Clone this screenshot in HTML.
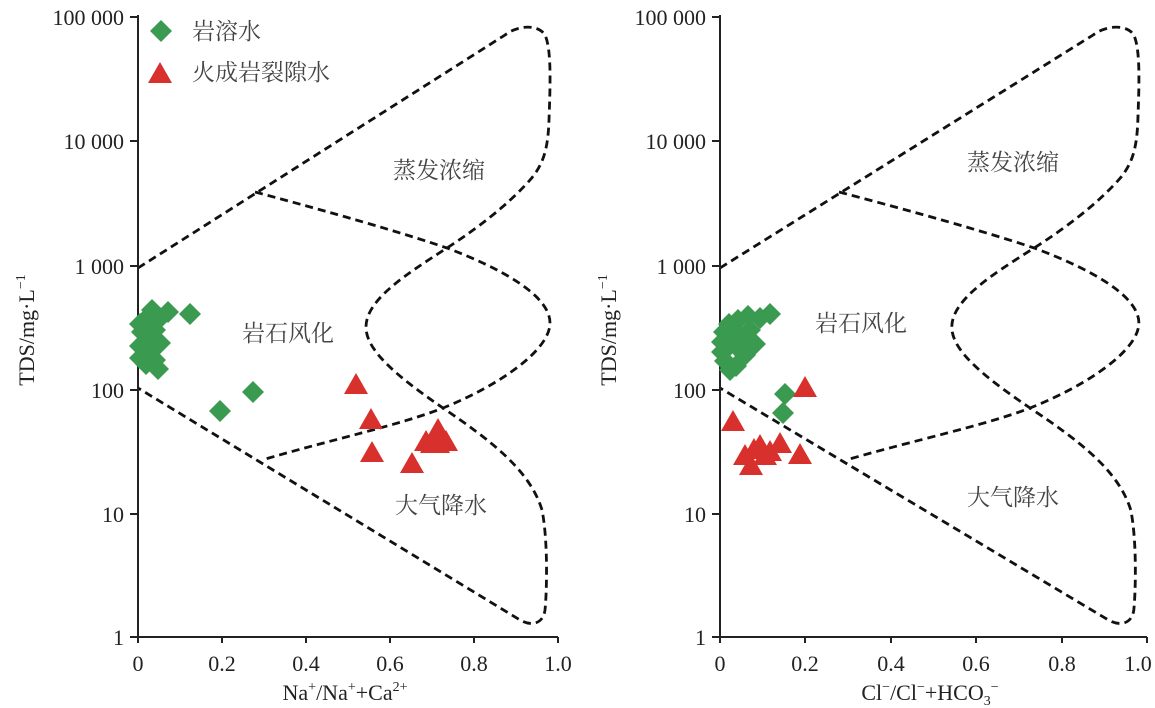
<!DOCTYPE html>
<html><head><meta charset="utf-8"><style>
html,body{margin:0;padding:0;background:#fff;}
svg{display:block;}
.t{font-family:"Liberation Serif",serif;font-size:22px;fill:#222;}
.c{font-family:"Liberation Serif","Noto Serif CJK SC",serif;font-size:23px;fill:#444;}
.s{fill:none;stroke:#111;stroke-width:2.8;stroke-dasharray:8 5;}
</style></head><body>
<svg width="1155" height="708" viewBox="0 0 1155 708" xmlns="http://www.w3.org/2000/svg">
<defs>
<g id="shape">
<path class="s" d="M138,268 L505,35 C518,25 538,24 545,35 C552,50 550,90 549,120 C548,150 543,165 530,180 C515,197 490,220 447,248 C405,275 366,300 366,327 C366,350 395,375 443,408 C490,440 530,470 542,510 C548,540 547,590 545,610 C543,625 530,626 520,620 L138,388"/>
<path class="s" d="M255,192 C330,212 400,232 447,248 C500,268 550,295 550,323 C550,350 500,385 443,408 C400,425 330,440 262,460"/>
</g>
<path id="dm" d="M0,-11 L11,0 L0,11 L-11,0 Z" fill="#3a9a50"/>
<path id="tr" d="M0,-12 L12,9 L-12,9 Z" fill="#d8302c"/>
</defs>

<!-- LEFT PLOT -->
<use href="#shape"/>
<g fill="none" stroke="#222" stroke-width="2">
<path d="M138,15 V637 H558"/>
<path d="M130,17 H138 M130,141 H138 M130,266 H138 M130,390 H138 M130,514 H138 M130,637 H138"/>
<path d="M138,637 v6 M222,637 v6 M306,637 v6 M390,637 v6 M474,637 v6 M558,637 v6"/>
</g>
<g class="t" text-anchor="end">
<text x="124" y="25">100 000</text><text x="124" y="149">10 000</text><text x="124" y="274">1 000</text>
<text x="124" y="398">100</text><text x="124" y="522">10</text><text x="124" y="645">1</text>
</g>
<g class="t" text-anchor="middle">
<text x="138" y="671">0</text><text x="222" y="671">0.2</text><text x="306" y="671">0.4</text>
<text x="390" y="671">0.6</text><text x="474" y="671">0.8</text><text x="558" y="671">1.0</text>
<text x="345" y="700">Na<tspan dy="-9" font-size="14">+</tspan><tspan dy="9">/Na</tspan><tspan dy="-9" font-size="14">+</tspan><tspan dy="9">+Ca</tspan><tspan dy="-9" font-size="14">2+</tspan></text>
</g>
<text class="t" transform="translate(34,330) rotate(-90)" text-anchor="middle">TDS/mg·L<tspan dy="-9" font-size="14">−1</tspan></text>
<text class="c" x="393" y="178">蒸发浓缩</text>
<text class="c" x="242" y="341">岩石风化</text>
<text class="c" x="395" y="513">大气降水</text>
<use href="#dm" x="161" y="31"/>
<text class="c" x="192" y="39" fill="#333">岩溶水</text>
<use href="#tr" x="160" y="74"/>
<text class="c" x="192" y="80" fill="#333">火成岩裂隙水</text>
<g>
<use href="#dm" x="168" y="312"/><use href="#dm" x="152" y="310"/><use href="#dm" x="190" y="314"/><use href="#dm" x="147" y="318"/>
<use href="#dm" x="140" y="324"/><use href="#dm" x="142" y="332"/><use href="#dm" x="155" y="330"/><use href="#dm" x="148" y="340"/>
<use href="#dm" x="160" y="343"/><use href="#dm" x="140" y="346"/><use href="#dm" x="150" y="352"/><use href="#dm" x="140" y="358"/>
<use href="#dm" x="146" y="364"/><use href="#dm" x="155" y="360"/><use href="#dm" x="158" y="369"/><use href="#dm" x="160" y="318"/>
<use href="#dm" x="220" y="411"/><use href="#dm" x="253" y="392"/>
<use href="#tr" x="356" y="385"/><use href="#tr" x="371" y="420"/><use href="#tr" x="372" y="453"/><use href="#tr" x="412" y="464"/>
<use href="#tr" x="426" y="442"/><use href="#tr" x="432" y="444"/><use href="#tr" x="438" y="430"/><use href="#tr" x="440" y="438"/>
<use href="#tr" x="446" y="442"/><use href="#tr" x="438" y="444"/>
</g>

<!-- RIGHT PLOT -->
<g transform="translate(720,0) scale(1.0167,1) translate(-138,0)"><use href="#shape"/></g>
<g fill="none" stroke="#222" stroke-width="2">
<path d="M720,15 V637 H1147"/>
<path d="M712,17 H720 M712,141 H720 M712,266 H720 M712,390 H720 M712,514 H720 M712,637 H720"/>
<path d="M720,637 v6 M805,637 v6 M891,637 v6 M976,637 v6 M1062,637 v6 M1147,637 v6"/>
</g>
<g class="t" text-anchor="end">
<text x="706" y="25">100 000</text><text x="706" y="149">10 000</text><text x="706" y="274">1 000</text>
<text x="706" y="398">100</text><text x="706" y="522">10</text><text x="706" y="645">1</text>
</g>
<g class="t" text-anchor="middle">
<text x="720" y="671">0</text><text x="805" y="671">0.2</text><text x="891" y="671">0.4</text>
<text x="976" y="671">0.6</text><text x="1062" y="671">0.8</text><text x="1138" y="671">1.0</text>
<text x="930" y="700">Cl<tspan dy="-9" font-size="14">−</tspan><tspan dy="9">/Cl</tspan><tspan dy="-9" font-size="14">−</tspan><tspan dy="9">+HCO</tspan><tspan dy="5" font-size="14">3</tspan><tspan dy="-14" font-size="14">−</tspan></text>
</g>
<text class="t" transform="translate(616,330) rotate(-90)" text-anchor="middle">TDS/mg·L<tspan dy="-9" font-size="14">−1</tspan></text>
<text class="c" x="967" y="170">蒸发浓缩</text>
<text class="c" x="815" y="331">岩石风化</text>
<text class="c" x="967" y="505">大气降水</text>
<g>
<use href="#dm" x="770" y="314"/><use href="#dm" x="760" y="318"/><use href="#dm" x="748" y="316"/><use href="#dm" x="738" y="320"/>
<use href="#dm" x="729" y="324"/><use href="#dm" x="724" y="332"/><use href="#dm" x="722" y="342"/><use href="#dm" x="722" y="352"/>
<use href="#dm" x="725" y="361"/><use href="#dm" x="730" y="370"/><use href="#dm" x="736" y="366"/><use href="#dm" x="745" y="355"/>
<use href="#dm" x="755" y="344"/><use href="#dm" x="745" y="340"/><use href="#dm" x="735" y="332"/><use href="#dm" x="750" y="330"/>
<use href="#dm" x="738" y="348"/><use href="#dm" x="730" y="345"/>
<use href="#dm" x="785" y="394"/><use href="#dm" x="783" y="413"/>
<use href="#tr" x="805" y="388"/><use href="#tr" x="733" y="422"/><use href="#tr" x="754" y="450"/><use href="#tr" x="751" y="466"/>
<use href="#tr" x="770" y="452"/><use href="#tr" x="760" y="446"/><use href="#tr" x="780" y="444"/><use href="#tr" x="800" y="455"/>
<use href="#tr" x="745" y="456"/><use href="#tr" x="765" y="456"/>
</g>
</svg>
</body></html>
